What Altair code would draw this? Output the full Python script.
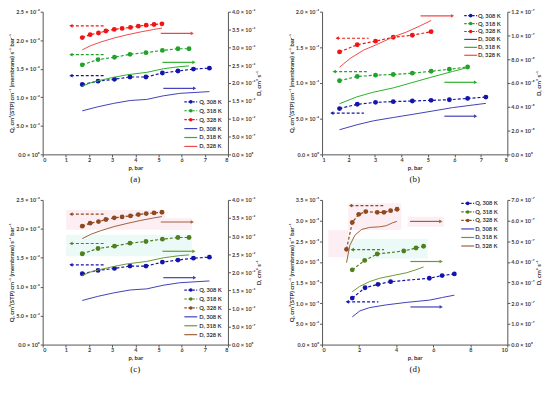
import math
import altair as alt
import pandas as pd

FONT = "Lato"
SERIES = ["Q, 308 K", "Q, 318 K", "Q, 328 K", "D, 308 K", "D, 318 K", "D, 328 K"]

# ---------------- panel (a) / (c) measurements ----------------
AC_Q308_P = [1.71, 2.39, 3.10, 3.77, 4.46, 5.17, 5.84, 6.51, 7.20]
AC_Q308_V = [0.01224, 0.01282, 0.01316, 0.01356, 0.01356, 0.01425, 0.01460, 0.01494, 0.01511]
AC_Q318_P = [1.71, 2.39, 3.10, 3.77, 4.46, 5.17, 5.84, 6.32]
AC_Q318_V = [0.01569, 0.01661, 0.01701, 0.01753, 0.01782, 0.01822, 0.01851, 0.01851]
AC_Q328_P = [1.71, 2.05, 2.41, 2.73, 3.09, 3.43, 3.79, 4.13, 4.47, 4.81, 5.15]
AC_Q328_V = [0.02046, 0.02098, 0.02126, 0.02161, 0.02190, 0.02207, 0.02224, 0.02247, 0.02264, 0.02276, 0.02287]
AC_D308_P = [1.71, 2.36, 3.07, 3.78, 4.49, 5.20, 5.92, 7.20]
AC_D308_V = [1.22e-6, 1.33e-6, 1.43e-6, 1.51e-6, 1.54e-6, 1.64e-6, 1.71e-6, 1.76e-6]
AC_D318_P = [1.71, 2.08, 2.51, 3.07, 3.64, 4.50, 5.21, 5.92, 6.32]
AC_D318_V = [1.91e-6, 2.01e-6, 2.08e-6, 2.16e-6, 2.23e-6, 2.30e-6, 2.40e-6, 2.46e-6, 2.48e-6]
AC_D328_P = [1.71, 2.08, 2.51, 3.07, 3.64, 4.21, 4.78, 5.15]
AC_D328_V = [2.93e-6, 3.05e-6, 3.15e-6, 3.26e-6, 3.35e-6, 3.43e-6, 3.50e-6, 3.54e-6]
AC_LARROW_X1 = [1.22, 1.22, 1.22]
AC_LARROW_X2 = [2.65, 2.65, 2.65]
AC_LARROW_Y = [0.01379, 0.01747, 0.02253]
AC_RARROW_X1 = [5.21, 5.17, 5.10]
AC_RARROW_X2 = [6.56, 6.53, 6.46]
AC_RARROW_Y = [1.85e-6, 2.58e-6, 3.39e-6]

# ---------------- panel (b) ----------------
B_Q308_P = [1.66, 2.33, 3.02, 3.69, 4.41, 5.12, 5.81, 6.50, 7.19]
B_Q308_V = [0.642e-3, 0.702e-3, 0.729e-3, 0.739e-3, 0.748e-3, 0.757e-3, 0.766e-3, 0.784e-3, 0.803e-3]
B_Q318_P = [1.66, 2.33, 3.02, 3.69, 4.41, 5.12, 5.81, 6.50]
B_Q318_V = [1.032e-3, 1.092e-3, 1.110e-3, 1.119e-3, 1.138e-3, 1.165e-3, 1.193e-3, 1.225e-3]
B_Q328_P = [1.66, 2.33, 3.02, 3.69, 4.41, 5.12]
B_Q328_V = [1.436e-3, 1.537e-3, 1.587e-3, 1.642e-3, 1.670e-3, 1.720e-3]
B_D308_P = [1.66, 2.32, 2.94, 3.69, 4.44, 5.19, 5.93, 7.19]
B_D308_V = [2.07e-8, 2.49e-8, 2.82e-8, 3.10e-8, 3.37e-8, 3.65e-8, 3.93e-8, 4.29e-8]
B_D318_P = [1.66, 2.32, 2.94, 3.69, 4.44, 5.19, 5.93, 6.50]
B_D318_V = [4.26e-8, 4.84e-8, 5.23e-8, 5.59e-8, 6.06e-8, 6.53e-8, 6.97e-8, 7.30e-8]
B_D328_P = [1.66, 2.07, 2.57, 3.07, 3.69, 4.19, 4.69, 5.12]
B_D328_V = [7.33e-8, 8.08e-8, 8.77e-8, 9.24e-8, 9.88e-8, 10.29e-8, 10.79e-8, 11.26e-8]
B_LARROW_X1 = [1.37, 1.46, 1.57]
B_LARROW_X2 = [2.58, 2.69, 2.76]
B_LARROW_Y = [0.578e-3, 1.161e-3, 1.628e-3]
B_RARROW_X1 = [5.62, 5.62, 4.72]
B_RARROW_X2 = [6.80, 6.80, 5.93]
B_RARROW_Y = [3.21e-8, 6.06e-8, 11.65e-8]

# ---------------- panel (d) ----------------
D_Q308_P = [1.63, 2.32, 3.02, 3.70, 5.79, 6.48, 7.14]
D_Q308_V = [1.124e-5, 1.376e-5, 1.458e-5, 1.523e-5, 1.604e-5, 1.669e-5, 1.710e-5]
D_Q318_P = [1.63, 2.30, 2.98, 4.41, 5.07, 5.48]
D_Q318_V = [1.808e-5, 2.036e-5, 2.191e-5, 2.264e-5, 2.337e-5, 2.378e-5]
D_Q328_P = [1.32, 1.63, 1.98, 2.36, 2.98, 3.34, 3.70, 4.05]
D_Q328_V = [2.305e-5, 2.956e-5, 3.151e-5, 3.217e-5, 3.200e-5, 3.200e-5, 3.241e-5, 3.274e-5]
D_D308_P = [1.63, 2.04, 2.57, 3.46, 4.54, 5.79, 6.50, 7.14]
D_D308_V = [1.34e-7, 1.63e-7, 1.79e-7, 1.92e-7, 2.04e-7, 2.15e-7, 2.28e-7, 2.39e-7]
D_D318_P = [1.63, 2.04, 2.57, 3.11, 3.82, 4.54, 5.07, 5.48]
D_D318_V = [2.56e-7, 2.82e-7, 3.05e-7, 3.21e-7, 3.34e-7, 3.47e-7, 3.62e-7, 3.76e-7]
D_D328_P = [1.32, 1.50, 1.77, 2.13, 2.57, 3.11, 3.46, 3.82, 4.04]
D_D328_V = [3.96e-7, 4.80e-7, 5.29e-7, 5.57e-7, 5.67e-7, 5.70e-7, 5.75e-7, 5.90e-7, 5.96e-7]
D_LARROW_X1 = [1.36, 1.63, 1.54]
D_LARROW_X2 = [3.04, 3.34, 3.32]
D_LARROW_Y = [1.034e-5, 2.296e-5, 3.363e-5]
D_RARROW_X1 = [4.77, 4.77, 4.75]
D_RARROW_X2 = [6.43, 6.43, 6.41]
D_RARROW_Y = [1.82e-7, 4.02e-7, 5.96e-7]

# faint highlight boxes (panels c and d), in data units of the Q axis
C_PINK = {"x1": [1.01, 5.07], "x2": [5.28, 6.44], "y1": [0.01985, 0.01980], "y2": [0.02328, 0.02186]}
C_CYAN = {"x1": [1.01], "x2": [6.44], "y1": [0.01528], "y2": [0.01899]}
D_PINK = {"x1": [1.41, 0.34, 4.62], "x2": [4.27, 1.41, 6.58], "y1": [2.77e-5, 2.12e-5, 2.85e-5], "y2": [3.42e-5, 2.77e-5, 3.09e-5]}
D_CYAN = {"x1": [1.41], "x2": [5.70], "y1": [2.08e-5], "y2": [2.56e-5]}

COLORS_AB = ["#1414aa", "#22a22a", "#f01414", "#4040b8", "#2cb02c", "#f04848"]
COLORS_CD = ["#1414aa", "#4f7f1f", "#8e4a1e", "#4040b8", "#6a9a30", "#a0603a"]

SUP = str.maketrans("-0123456789", "⁻⁰¹²³⁴⁵⁶⁷⁸⁹")


def sci_label_expr(step, n):
    labels = []
    for i in range(n + 1):
        v = step * i
        if i == 0:
            labels.append("0.0 × 10⁰")
        else:
            e = math.floor(math.log10(v) + 1e-9)
            m = v / 10 ** e
            labels.append(f"{m:.1f} × 10" + str(e).translate(SUP))
    arr = ",".join(f"'{l}'" for l in labels)
    return f"[{arr}][round(datum.value/{step})]", [step * i for i in range(n + 1)]


def series_df(ps, vs, names):
    rows = []
    for p, v, n in zip(ps, vs, names):
        for i, (a, b) in enumerate(zip(p, v)):
            rows.append({"p": a, "v": b, "series": n, "i": i})
    return pd.DataFrame(rows)


def make_panel(P, height):
    cs = alt.Scale(domain=SERIES, range=P["colors"])
    xs = alt.Scale(domain=P["xdom"], nice=False, zero=False)
    xax = alt.Axis(values=P["xticks"], title="p, bar", format="d")
    X = alt.X("p:Q", scale=xs, axis=xax)
    Xa = alt.X("x1:Q", scale=xs, axis=xax)
    Xb = alt.X("x2:Q", scale=xs, axis=xax)
    qexpr, qvals = sci_label_expr(P["qstep"], P["qn"])
    dexpr, dvals = sci_label_expr(P["dstep"], P["dn"])
    qdom = [0, P["qstep"] * P["qn"]]
    ddom = [0, P["dstep"] * P["dn"]]

    def QY(field, axis=None):
        return alt.Y(f"{field}:Q", scale=alt.Scale(domain=qdom, nice=False, zero=False), axis=axis)

    def DY(field, axis=None):
        return alt.Y(f"{field}:Q", scale=alt.Scale(domain=ddom, nice=False, zero=False), axis=axis)

    qaxis = alt.Axis(orient="left", values=qvals, labelExpr=qexpr,
                     title="Q, cm³(STP) cm⁻¹ (membrane) s⁻¹ bar⁻¹")
    daxis = alt.Axis(orient="right", values=dvals, labelExpr=dexpr,
                     title="D, cm² s⁻¹", titleAngle=270, titleBaseline="top")

    qdf = series_df(P["qp"], P["qv"], SERIES[:3])
    ddf = series_df(P["dp"], P["dv"], SERIES[3:])
    la = pd.DataFrame({"x1": P["lax1"], "x2": P["lax2"], "v": P["lay"], "series": SERIES[:3]})
    ra = pd.DataFrame({"x1": P["rax1"], "x2": P["rax2"], "v": P["ray"], "series": SERIES[3:]})
    col = alt.Color("series:N", scale=cs, legend=None)

    layers = []
    for key, c in (("pink", "#fdeef4"), ("cyan", "#ebfaf7")):
        if key in P:
            r = pd.DataFrame(P[key])
            layers.append(alt.Chart(r).mark_rect(color=c).encode(
                x=Xa, x2="x2:Q", y=QY("y1"), y2="y2:Q"))

    layers.append(alt.Chart(qdf).mark_line(strokeDash=[3, 2], strokeWidth=1.2).encode(
        x=X, y=QY("v", qaxis), color=col, order="i:Q"))
    layers.append(alt.Chart(qdf).mark_point(filled=True, size=24, opacity=1).encode(
        x=X, y=QY("v"), color=col))
    layers.append(alt.Chart(la).mark_rule(strokeDash=[3, 2], strokeWidth=1.2).encode(
        x=Xa, x2="x2:Q", y=QY("v"), color=col))
    layers.append(alt.Chart(la).mark_point(shape="triangle-left", filled=True, size=14, opacity=1).encode(
        x=Xa, y=QY("v"), color=col))
    layers.append(alt.Chart(ddf).mark_line(strokeWidth=1).encode(
        x=X, y=DY("v", daxis), color=col, order="i:Q"))
    layers.append(alt.Chart(ra).mark_rule(strokeWidth=1.2).encode(
        x=Xa, x2="x2:Q", y=DY("v"), color=col))
    layers.append(alt.Chart(ra).mark_point(shape="triangle-right", filled=True, size=14, opacity=1).encode(
        x=Xb, y=DY("v"), color=col))

    # legend drawn inside the plot area
    lg = pd.DataFrame({"series": SERIES, "row": list(range(6)), "kind": ["Q"] * 3 + ["D"] * 3})
    y0, dy = P["legy"], P["legdy"]
    LY = alt.Y("row:Q", scale=alt.Scale(domain=[0, 5], range=[y0, y0 + 5 * dy]), axis=None)
    sx, sw, tx = P["legx"], 6.5, P["legtx"]
    layers.append(alt.Chart(lg).transform_filter("datum.kind == 'Q'").mark_rule(
        strokeDash=[2.5, 1.5], strokeWidth=1.2).encode(
        x=alt.value(sx - sw), x2=alt.value(sx + sw), y=LY, color=col))
    layers.append(alt.Chart(lg).transform_filter("datum.kind == 'D'").mark_rule(
        strokeWidth=1.2).encode(
        x=alt.value(sx - sw), x2=alt.value(sx + sw), y=LY, color=col))
    layers.append(alt.Chart(lg).transform_filter("datum.kind == 'Q'").mark_point(
        filled=True, size=13, opacity=1).encode(x=alt.value(sx), y=LY, color=col))
    layers.append(alt.Chart(lg).mark_text(
        align="left", baseline="middle", font=FONT, fontSize=5.8, fontWeight="bold", color="#333333").encode(
        x=alt.value(tx), y=LY, text="series:N"))

    return alt.layer(*layers).resolve_scale(y="independent").properties(
        width=187, height=height,
        title=alt.TitleParams(P["cap"], orient="bottom", font="Liberation Serif",
                              fontSize=9, fontWeight="normal", offset=5, color="#111111"))


AC_COMMON = dict(
    xdom=[0, 8], xticks=list(range(0, 9)), qstep=0.005, qn=5, dstep=5e-7, dn=8,
    qp=[AC_Q308_P, AC_Q318_P, AC_Q328_P], qv=[AC_Q308_V, AC_Q318_V, AC_Q328_V],
    dp=[AC_D308_P, AC_D318_P, AC_D328_P], dv=[AC_D308_V, AC_D318_V, AC_D328_V],
    lax1=AC_LARROW_X1, lax2=AC_LARROW_X2, lay=AC_LARROW_Y,
    rax1=AC_RARROW_X1, rax2=AC_RARROW_X2, ray=AC_RARROW_Y,
    legx=149.5, legtx=158, legy=91, legdy=9,
)
PA = dict(AC_COMMON, colors=COLORS_AB, cap="(a)")
PC = dict(AC_COMMON, colors=COLORS_CD, cap="(c)", pink=C_PINK, cyan=C_CYAN)
PB = dict(
    xdom=[1, 8], xticks=list(range(1, 9)), qstep=5e-4, qn=4, dstep=2e-8, dn=6,
    qp=[B_Q308_P, B_Q318_P, B_Q328_P], qv=[B_Q308_V, B_Q318_V, B_Q328_V],
    dp=[B_D308_P, B_D318_P, B_D328_P], dv=[B_D308_V, B_D318_V, B_D328_V],
    lax1=B_LARROW_X1, lax2=B_LARROW_X2, lay=B_LARROW_Y,
    rax1=B_RARROW_X1, rax2=B_RARROW_X2, ray=B_RARROW_Y,
    legx=150, legtx=157.5, legy=4, legdy=8, colors=COLORS_AB, cap="(b)",
)
PD = dict(
    xdom=[0, 10], xticks=list(range(0, 11, 2)), qstep=5e-6, qn=7, dstep=1e-7, dn=7,
    qp=[D_Q308_P, D_Q318_P, D_Q328_P], qv=[D_Q308_V, D_Q318_V, D_Q328_V],
    dp=[D_D308_P, D_D318_P, D_D328_P], dv=[D_D308_V, D_D318_V, D_D328_V],
    lax1=D_LARROW_X1, lax2=D_LARROW_X2, lay=D_LARROW_Y,
    rax1=D_RARROW_X1, rax2=D_RARROW_X2, ray=D_RARROW_Y,
    legx=147, legtx=154.5, legy=3.5, legdy=8.6, colors=COLORS_CD, cap="(d)", pink=D_PINK, cyan=D_CYAN,
)

RES = dict(x="independent", y="independent", color="independent")

row1 = alt.hconcat(make_panel(PA, 144), make_panel(PB, 144), spacing=25).resolve_scale(**RES)
row2 = alt.hconcat(make_panel(PC, 146), make_panel(PD, 146), spacing=25).resolve_scale(**RES)

chart = alt.vconcat(row1, row2, spacing=14).resolve_scale(**RES).properties(
    padding={"left": 0, "top": 0, "right": 0, "bottom": 0}
).configure_view(stroke=None).configure_axis(
    labelFont=FONT, labelFontSize=5.5, labelFontWeight="bold", labelColor="#404040",
    titleFont=FONT, titleFontSize=6, titleFontWeight="bold", titleColor="#303030",
    domainColor="#555555", tickColor="#555555", tickSize=2.5, labelPadding=1, titlePadding=1,
    grid=False,
)

chart.save("out.html", embed_options={"renderer": "svg", "actions": False})
